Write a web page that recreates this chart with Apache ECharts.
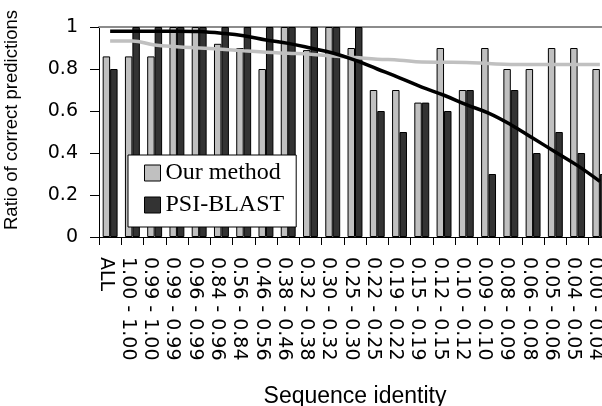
<!DOCTYPE html>
<html>
<head>
<meta charset="utf-8">
<script src="https://cdn.jsdelivr.net/npm/echarts@6/dist/echarts.min.js"></script>
<style>
  html, body { margin: 0; padding: 0; background: #fff; }
  #chart { width: 602px; height: 406px; }
</style>
</head>
<body>
<div id="chart"></div>
<script>
var chartDom = document.getElementById('chart');
var myChart = echarts.init(chartDom);

// identity ranges (x axis)
var categories = ['ALL', '1.00 - 1.00', '0.99 - 1.00', '0.99 - 0.99', '0.96 - 0.99', '0.84 - 0.96',
  '0.56 - 0.84', '0.46 - 0.56', '0.38 - 0.46', '0.32 - 0.38', '0.30 - 0.32', '0.25 - 0.30',
  '0.22 - 0.25', '0.19 - 0.22', '0.15 - 0.19', '0.12 - 0.15', '0.10 - 0.12', '0.09 - 0.10',
  '0.08 - 0.09', '0.06 - 0.08', '0.05 - 0.06', '0.04 - 0.05', '0.00 - 0.04'];

// bars
var ourMethod = [0.86, 0.86, 0.86, 1, 1, 0.92, 0.9, 0.8, 1, 0.89, 1, 0.9,
  0.7, 0.7, 0.64, 0.9, 0.7, 0.9, 0.8, 0.8, 0.9, 0.9, 0.8];
var psiBlast = [0.8, 1, 1, 1, 1, 1, 1, 1, 1, 1, 1, 1,
  0.6, 0.5, 0.64, 0.6, 0.7, 0.3, 0.7, 0.4, 0.5, 0.4, 0.3];

// cumulative curves
var ourCurve = [0.933, 0.933, 0.914, 0.906, 0.9, 0.894, 0.887, 0.88, 0.875, 0.87, 0.862, 0.855,
  0.847, 0.842, 0.833, 0.832, 0.831, 0.826, 0.822, 0.822, 0.822, 0.822, 0.822];
var psiCurve = [0.98, 0.98, 0.98, 0.98, 0.978, 0.97, 0.958, 0.938, 0.922, 0.9, 0.876, 0.842,
  0.8, 0.758, 0.714, 0.675, 0.63, 0.59, 0.535, 0.47, 0.405, 0.34, 0.265];

var yTicks = [0, 0.2, 0.4, 0.6, 0.8, 1];

var sans = 'Liberation Sans';
var tickFont = 'DejaVu Sans';

var option = {
  animation: false,
  grid: {
    left: 99,
    top: 27,
    width: 512,
    height: 210,
    outerBoundsMode: 'none',
    containLabel: false
  },
  legend: {
    orient: 'vertical',
    left: 128,
    top: 155,
    padding: [6, 12, 10, 16],
    itemGap: 8,
    itemWidth: 16,
    itemHeight: 16,
    borderColor: '#000',
    borderWidth: 1,
    backgroundColor: '#fff',
    textStyle: {
      fontFamily: 'Liberation Serif',
      fontSize: 24,
      lineHeight: 24,
      color: '#000'
    },
    data: [
      { name: 'Our method', icon: 'rect', itemStyle: { color: '#c0c0c0', borderColor: '#000', borderWidth: 1 } },
      { name: 'PSI-BLAST', icon: 'rect', itemStyle: { color: '#333333', borderColor: '#000', borderWidth: 1 } }
    ]
  },
  xAxis: [
    {
      type: 'category',
      data: categories,
      name: 'Sequence identity',
      nameLocation: 'middle',
      nameGap: 148,
      nameTextStyle: { fontFamily: sans, fontSize: 23, color: '#000' },
      axisLine: { lineStyle: { color: '#000', width: 1 } },
      axisTick: { show: true, alignWithLabel: false, length: 8, lineStyle: { color: '#000' } },
      axisLabel: {
        interval: 0,
        rotate: -90,
        margin: 20,
        verticalAlign: 'top',
        lineHeight: 9,
        fontFamily: tickFont,
        fontSize: 19,
        color: '#000'
      }
    },
    {
      // top border at 1
      type: 'category',
      position: 'top',
      data: categories,
      axisLine: { show: true, lineStyle: { color: '#8c8c8c', width: 2 } },
      axisTick: { show: false },
      axisLabel: { show: false }
    }
  ],
  yAxis: {
    type: 'value',
    min: 0,
    max: 1,
    interval: 0.2,
    name: 'Ratio of correct predictions',
    nameLocation: 'middle',
    nameGap: 78,
    nameTextStyle: { fontFamily: sans, fontSize: 18.5, color: '#000', padding: [0, 0, 0, 24] },
    axisLine: { show: true, lineStyle: { color: '#000', width: 1 } },
    axisTick: { show: true, inside: false, length: 9, lineStyle: { color: '#000' } },
    splitLine: { show: false },
    axisLabel: {
      margin: 21,
      fontFamily: tickFont,
      fontSize: 19,
      color: '#000',
      formatter: function (v) {
        return yTicks.indexOf(v) >= 0 ? String(v) : '';
      }
    }
  },
  series: [
    {
      name: 'Our method',
      type: 'bar',
      data: ourMethod,
      barGap: '0%',
      barCategoryGap: '33%',
      itemStyle: { color: '#c0c0c0', borderColor: '#000', borderWidth: 1 }
    },
    {
      name: 'PSI-BLAST',
      type: 'bar',
      data: psiBlast,
      barGap: '0%',
      barCategoryGap: '33%',
      itemStyle: { color: '#333333', borderColor: '#000', borderWidth: 1 }
    },
    {
      name: 'Our method curve',
      type: 'line',
      data: ourCurve,
      smooth: 0.4,
      symbol: 'none',
      z: 3,
      lineStyle: { color: '#c0c0c0', width: 3.5 }
    },
    {
      name: 'PSI-BLAST curve',
      type: 'line',
      data: psiCurve,
      smooth: 0.4,
      symbol: 'none',
      z: 3,
      lineStyle: { color: '#000', width: 3.5 }
    }
  ]
};

myChart.setOption(option);
</script>
</body>
</html>
